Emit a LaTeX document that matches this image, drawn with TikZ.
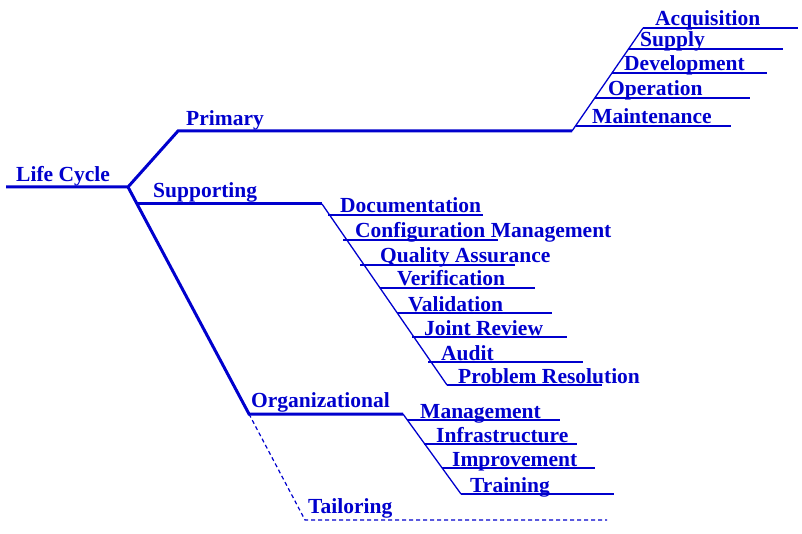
\documentclass[tikz,border=0pt]{standalone}
\usepackage{fontspec}
\setmainfont{Liberation Serif}[BoldFont={Liberation Serif Bold}]
\usetikzlibrary{positioning}
\usetikzlibrary{calc}
\definecolor{lcblue}{RGB}{0,0,205}
\tikzstyle{mainedge} = [draw,lcblue,line width=3pt]
\tikzstyle{subedge} = [draw,lcblue,line width=1.3pt]
\tikzstyle{tailedge} = [draw,lcblue,line width=1.2pt,dash pattern=on 4pt off 3pt]
\tikzstyle{branchtext} = [anchor=base west,inner sep=0pt,text=lcblue,font=\bfseries\fontsize{21.5}{24}\selectfont]

\begin{document}
\begin{tikzpicture}[x=1pt,y=-1pt]

  \useasboundingbox (0,0) rectangle (802,534);

  % main branch points
  \foreach \x/\y/\name in {6/187/lc0, 128/187/lc1, 178/131/pr0, 572/131/pr1,
                           137/204/su0, 322/204/su1, 249/414/or0, 403/414/or1,
                           305/520/ta0, 607/520/ta1}
          \coordinate (\name) at (\x,\y);

  \foreach \x/\y/\name/\label in {16/182/lifecycle/Life Cycle, 186/126/primary/Primary,
                                  153/198/supporting/Supporting, 251/407/organizational/Organizational,
                                  308/513/tailoring/Tailoring}
          \node[branchtext] (\name) at (\x,\y) {\label};

  \path[mainedge] (lc0) -- (lc1) -- (pr0) -- (pr1);
  \path[mainedge] (lc1) -- (or0) -- (or1);
  \path[mainedge] (su0) -- (su1);
  \path[tailedge] (or0) -- (ta0) -- (ta1);

  % primary processes
  \foreach \x/\y/\tx/\name/\label in {643/28/655/acq/Acquisition, 628/49/640/sup/Supply,
                                      612/73/624/dev/Development, 595/98/608/ope/Operation,
                                      576/126/592/mai/Maintenance}
  {
    \coordinate (\name0) at (\x,\y);
    \coordinate (\name1) at (\x+155,\y);
    \node[branchtext] (\name) at (\tx,\y-2) {\label};
    \path[subedge] (\name0) -- (\name1);
  }
  \path[subedge] (pr1) -- (acq0);

  % supporting processes
  \foreach \x/\y/\tx/\name/\label in {328/215/340/doc/Documentation, 343/240/355/con/Configuration Management,
                                      360/265/380/qua/Quality Assurance, 380/288/397/ver/Verification,
                                      397/313/408/val/Validation, 412/337/424/joi/Joint Review,
                                      428/362/441/aud/Audit, 447/385/458/pro/Problem Resolution}
  {
    \coordinate (\name0) at (\x,\y);
    \coordinate (\name1) at (\x+155,\y);
    \node[branchtext] (\name) at (\tx,\y-2) {\label};
    \path[subedge] (\name0) -- (\name1);
  }
  \path[subedge] (su1) -- (pro0);

  % organizational processes
  \foreach \x/\y/\tx/\name/\label in {407/420/420/man/Management, 424/444/436/inf/Infrastructure,
                                      442/468/452/imp/Improvement, 461/494/470/tra/Training}
  {
    \coordinate (\name0) at (\x,\y);
    \coordinate (\name1) at (\x+153,\y);
    \node[branchtext] (\name) at (\tx,\y-2) {\label};
    \path[subedge] (\name0) -- (\name1);
  }
  \path[subedge] (or1) -- (tra0);

\end{tikzpicture}
\end{document}
